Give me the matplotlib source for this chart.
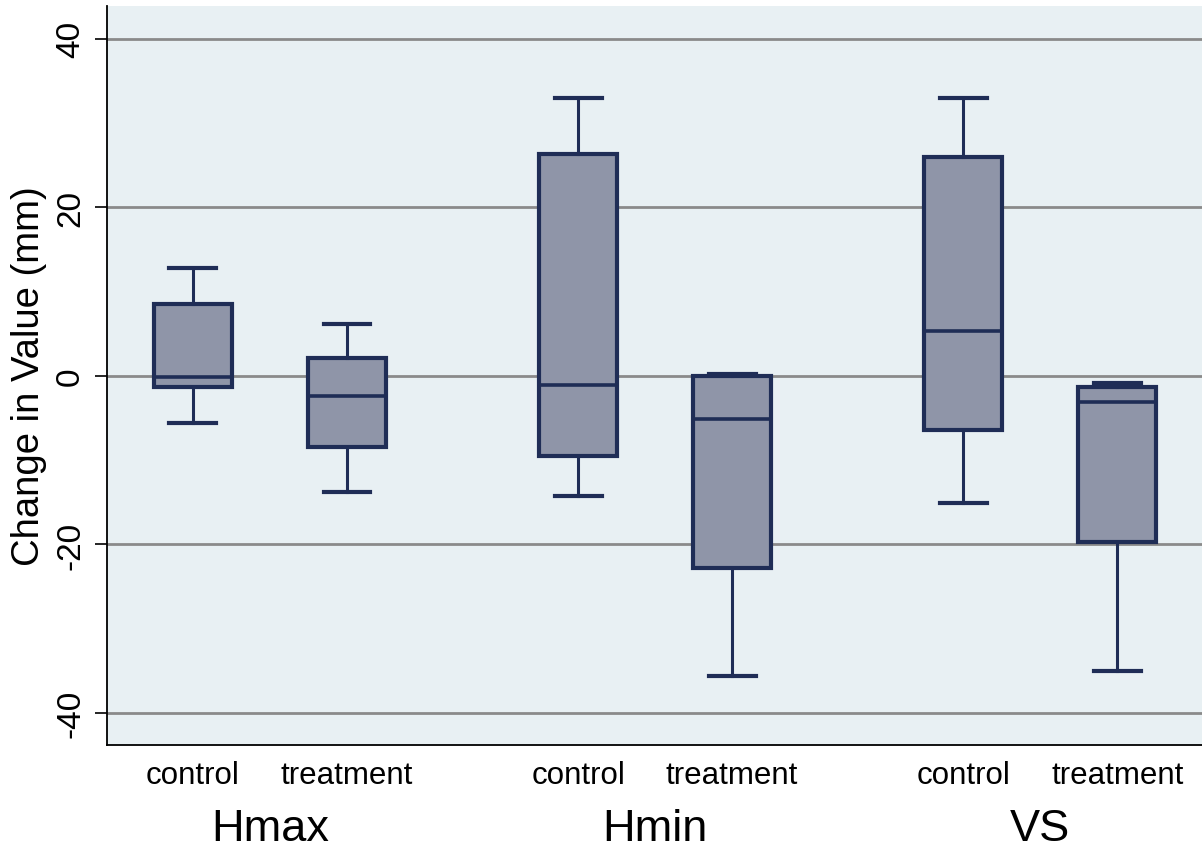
import matplotlib
matplotlib.use("Agg")
import matplotlib.pyplot as plt
import matplotlib.transforms as mtransforms

plt.rcParams['font.family'] = ['Liberation Sans', 'DejaVu Sans']

# Data
groups = ["Hmax", "Hmin", "VS"]
arms = ["control", "treatment"]
positions = [0, 1, 2.5, 3.5, 5, 6]
whislo = [-5.6, -13.8, -14.2, -35.6, -15.1, -35.0]
q1 = [-1.3, -8.4, -9.5, -22.8, -6.4, -19.7]
med = [-0.1, -2.4, -1.1, -5.1, 5.3, -3.1]
q3 = [8.5, 2.1, 26.35, 0.0, 26.0, -1.3]
whishi = [12.8, 6.2, 33.0, 0.2, 33.0, -0.8]
yticks = [-40, -20, 0, 20, 40]

edge = "#1f2d56"
fill = "#8f95a8"
bg = "#e8f0f3"

stats = []
for i in range(len(positions)):
    stats.append({"whislo": whislo[i], "q1": q1[i], "med": med[i],
                  "q3": q3[i], "whishi": whishi[i], "fliers": []})

fig = plt.figure(figsize=(12.02, 8.53), dpi=100)
ax = fig.add_axes([0.089, 0.1254, 0.911, 0.8664])
ax.set_facecolor(bg)

for y in yticks:
    ax.axhline(y, color="#8a8a8a", lw=2, zorder=1)

ax.bxp(stats, positions=positions, widths=0.506, capwidths=0.305,
       patch_artist=True, showfliers=False, manage_ticks=False,
       boxprops=dict(facecolor=fill, edgecolor=edge, linewidth=3),
       medianprops=dict(color=edge, linewidth=2.6),
       whiskerprops=dict(color=edge, linewidth=2.2),
       capprops=dict(color=edge, linewidth=3),
       zorder=3)

ax.set_xlim(-0.558, 6.55)
ax.set_ylim(-43.8, 43.9)

ax.set_yticks(yticks)
ax.set_yticklabels([str(y) for y in yticks], rotation=90, va="center", fontsize=24)
ax.tick_params(axis="y", length=9, width=1.2, pad=6)

ax.set_xticks(positions)
ax.set_xticklabels(arms * len(groups), fontsize=22.5)
ax.tick_params(axis="x", length=0, pad=11)

ax.set_ylabel("Change in Value (mm)", fontsize=27.5, labelpad=6)

trans = mtransforms.blended_transform_factory(ax.transData, fig.transFigure)
for g, name in enumerate(groups):
    xc = (positions[2 * g] + positions[2 * g + 1]) / 2
    ax.text(xc, 1 - 830 / 853, name, transform=trans, ha="center", va="center", fontsize=32.5)

for s in ["top", "right"]:
    ax.spines[s].set_visible(False)
ax.spines["left"].set_linewidth(1.3)
ax.spines["bottom"].set_linewidth(1.3)

fig.savefig("out.png", dpi=100)
